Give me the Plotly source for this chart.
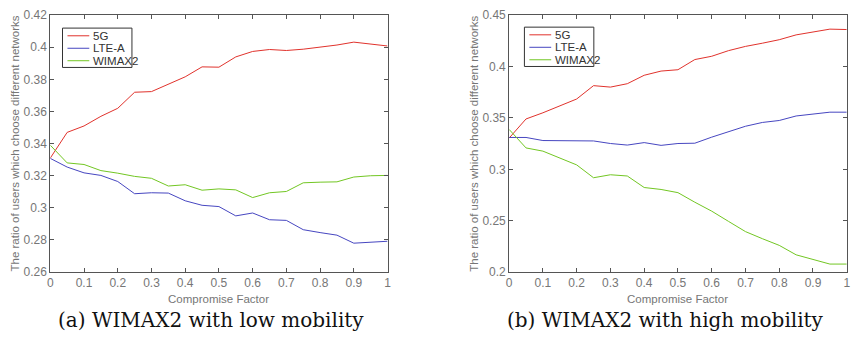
import plotly.graph_objects as go

x_vals = [round(i * 0.05, 2) for i in range(21)]

series_names = ["5G", "LTE-A", "WIMAX2"]
series_colors = ["#e0322c", "#4646c0", "#72c623"]

# (a) low mobility
low_5g = [0.331, 0.347, 0.351, 0.357, 0.362, 0.372, 0.3724, 0.377, 0.3816, 0.3878, 0.3876,
          0.394, 0.3974, 0.3986, 0.398, 0.3988, 0.400, 0.4014, 0.4032, 0.402, 0.4008]
low_lte = [0.3308, 0.3254, 0.3218, 0.3202, 0.3164, 0.3088, 0.3094, 0.3092, 0.3044, 0.3016, 0.3008,
           0.295, 0.2968, 0.2926, 0.2922, 0.2864, 0.2846, 0.283, 0.278, 0.2784, 0.2792]
low_wimax = [0.339, 0.328, 0.327, 0.3232, 0.3216, 0.3196, 0.3184, 0.3136, 0.3144, 0.311, 0.3118,
             0.3112, 0.3064, 0.3094, 0.3102, 0.3156, 0.316, 0.3162, 0.3192, 0.320, 0.3202]

# (b) high mobility
high_5g = [0.3304, 0.349, 0.355, 0.3615, 0.3684, 0.3814, 0.380, 0.3833, 0.3915, 0.3956, 0.3969,
           0.4068, 0.410, 0.4155, 0.4196, 0.4227, 0.4261, 0.4308, 0.4339, 0.4364, 0.436]
high_lte = [0.331, 0.331, 0.328, 0.328, 0.328, 0.3276, 0.3251, 0.3236, 0.326, 0.3233, 0.3251,
            0.3254, 0.3313, 0.3363, 0.3419, 0.3456, 0.3475, 0.3519, 0.3534, 0.3556, 0.3556]
high_wimax = [0.3388, 0.3208, 0.3177, 0.3109, 0.3043, 0.2918, 0.2947, 0.2935, 0.2823, 0.2804, 0.2773,
              0.268, 0.2593, 0.2493, 0.2394, 0.2325, 0.226, 0.2168, 0.2124, 0.2078, 0.2078]

x_ticks = [0, 0.1, 0.2, 0.3, 0.4, 0.5, 0.6, 0.7, 0.8, 0.9, 1]
y_ticks_a = [0.26, 0.28, 0.30, 0.32, 0.34, 0.36, 0.38, 0.40, 0.42]
y_ticks_b = [0.20, 0.25, 0.30, 0.35, 0.40, 0.45]

x_title = "Compromise Factor"
y_title = "The ratio of users which choose different networks"
captions = ["(a) WIMAX2 with low mobility", "(b) WIMAX2 with high mobility"]

W, H = 858, 345


def px(x):
    return x / W


def py(y):
    return 1 - y / H


fig = go.Figure()

panels = [
    dict(xa="x", ya="y", data=[low_5g, low_lte, low_wimax]),
    dict(xa="x2", ya="y2", data=[high_5g, high_lte, high_wimax]),
]
for p in panels:
    for name, color, vals in zip(series_names, series_colors, p["data"]):
        fig.add_trace(go.Scatter(x=x_vals, y=vals, mode="lines", name=name,
                                 line=dict(color=color, width=1),
                                 xaxis=p["xa"], yaxis=p["ya"], showlegend=False))

tick_font = dict(family="Liberation Sans, Arial, sans-serif", size=12, color="#767676")
axis_common = dict(showline=True, linecolor="#555555", linewidth=1, mirror="allticks",
                   ticks="inside", ticklen=4, tickcolor="#555555", tickwidth=1,
                   showgrid=False, zeroline=False, tickfont=tick_font)

left_dom = [px(47.7), px(387.7)]
right_dom = [px(510.3), px(850.7)]
y_dom = [py(276.3), py(8.5)]

fig.update_layout(
    width=W, height=H,
    margin=dict(l=0, r=0, t=0, b=0),
    paper_bgcolor="white", plot_bgcolor="white",
    xaxis=dict(domain=left_dom, range=[0, 1], tickvals=x_ticks, anchor="y", **axis_common),
    yaxis=dict(domain=y_dom, range=[0.26, 0.42], tickvals=y_ticks_a, anchor="x", **axis_common),
    xaxis2=dict(domain=right_dom, range=[0, 1], tickvals=x_ticks, anchor="y2", **axis_common),
    yaxis2=dict(domain=y_dom, range=[0.20, 0.45], tickvals=y_ticks_b, anchor="x2", **axis_common),
    showlegend=False,
)

label_font = dict(family="Liberation Sans, Arial, sans-serif", size=11.5, color="#767676")
cap_font = dict(family="DejaVu Serif, serif", size=20, color="#111111")

annotations = []
shapes = []
for dom, ytx, legx, legy in [(left_dom, 12, 60, 22), (right_dom, 474, 525.7, 21)]:
    cx = (dom[0] + dom[1]) / 2
    annotations.append(dict(text=x_title, x=cx, y=py(304), xref="paper", yref="paper",
                            showarrow=False, font=label_font, xanchor="center", yanchor="middle"))
    annotations.append(dict(text=y_title, x=px(ytx), y=(y_dom[0] + y_dom[1]) / 2, xref="paper",
                            yref="paper", showarrow=False, font=label_font, textangle=-90,
                            xanchor="center", yanchor="middle"))
    # legend box
    shapes.append(dict(type="rect", xref="paper", yref="paper", x0=px(legx), x1=px(legx + 70),
                       y0=py(legy + 41), y1=py(legy), line=dict(color="#333333", width=1),
                       fillcolor="white"))
    for i, (name, color) in enumerate(zip(series_names, series_colors)):
        yy = legy + 8 + i * 13
        shapes.append(dict(type="line", xref="paper", yref="paper", x0=px(legx + 5),
                           x1=px(legx + 27), y0=py(yy), y1=py(yy), line=dict(color=color, width=1)))
        annotations.append(dict(text=name, x=px(legx + 29), y=py(yy), xref="paper", yref="paper",
                                showarrow=False, xanchor="left", yanchor="middle",
                                font=dict(family="Liberation Sans, Arial, sans-serif", size=11.5,
                                          color="#333333")))

annotations.append(dict(text=captions[0], x=px(210), y=py(326), xref="paper", yref="paper",
                        showarrow=False, font=cap_font, xanchor="center", yanchor="middle"))
annotations.append(dict(text=captions[1], x=px(668), y=py(326), xref="paper", yref="paper",
                        showarrow=False, font=cap_font, xanchor="center", yanchor="middle"))

fig.update_layout(annotations=annotations, shapes=shapes)

fig.write_html("out.html",
               config={"displayModeBar": False},
               post_script="document.body.style.margin='0';document.body.style.padding='0';"
                           "document.body.style.overflow='hidden';")
